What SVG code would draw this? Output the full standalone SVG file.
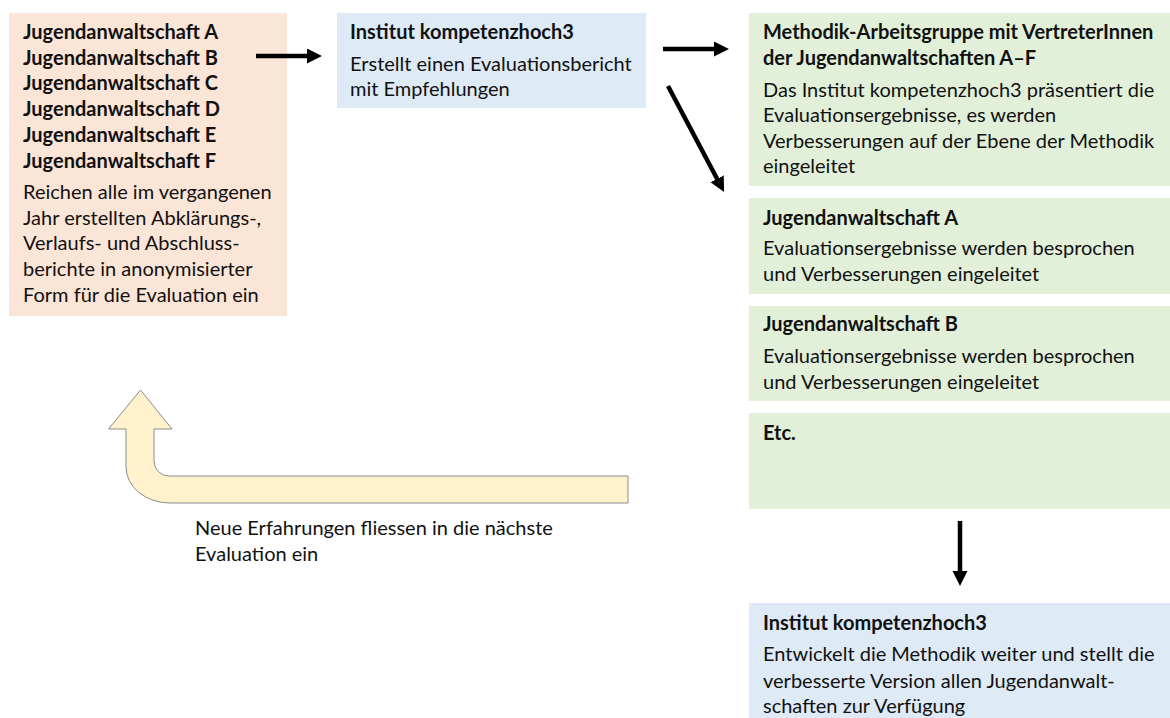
<svg xmlns="http://www.w3.org/2000/svg" width="1170" height="718" viewBox="0 0 1170 718">
<defs>
<style>
text{font-family:Lato,"Open Sans","Liberation Sans",sans-serif;font-size:20px;fill:#111}
.b{font-weight:bold}
.or{fill:#FBE5D6}
.bl{fill:#DEEBF7}
.gr{fill:#E2F0D9}
.ln{stroke:#000;stroke-width:4.5;fill:none;marker-end:url(#ah)}
</style>
<marker id="ah" markerUnits="userSpaceOnUse" markerWidth="16" markerHeight="16" refX="3" refY="7.5" orient="auto">
<path d="M0,0 L15,7.5 L0,15 z" fill="#000"/>
</marker>
</defs>
<rect width="1170" height="718" fill="#fff"/>

<g id="node-orange">
<rect class="or" x="9" y="13" width="278" height="303"/>
<text class="b" x="23" y="39">Jugendanwaltschaft A</text>
<text class="b" x="23" y="64.7">Jugendanwaltschaft B</text>
<text class="b" x="23" y="90.4">Jugendanwaltschaft C</text>
<text class="b" x="23" y="116">Jugendanwaltschaft D</text>
<text class="b" x="23" y="141.8">Jugendanwaltschaft E</text>
<text class="b" x="23" y="167.5">Jugendanwaltschaft F</text>
<text x="23" y="199">Reichen alle im vergangenen</text>
<text x="23" y="224.7">Jahr erstellten Abklärungs-,</text>
<text x="23" y="250.4">Verlaufs- und Abschluss-</text>
<text x="23" y="276">berichte in anonymisierter</text>
<text x="23" y="301.8">Form für die Evaluation ein</text>
</g>

<g id="node-institut1">
<rect class="bl" x="337" y="13" width="309" height="95"/>
<text class="b" x="350" y="39">Institut kompetenzhoch3</text>
<text x="350" y="71">Erstellt einen Evaluationsbericht</text>
<text x="350" y="96">mit Empfehlungen</text>
</g>

<g id="node-methodik">
<rect class="gr" x="749" y="13" width="421" height="173"/>
<text class="b" x="763" y="39">Methodik-Arbeitsgruppe mit VertreterInnen</text>
<text class="b" x="763" y="65">der Jugendanwaltschaften A–F</text>
<text x="763" y="96.5">Das Institut kompetenzhoch3 präsentiert die</text>
<text x="763" y="122">Evaluationsergebnisse, es werden</text>
<text x="763" y="147.5">Verbesserungen auf der Ebene der Methodik</text>
<text x="763" y="173">eingeleitet</text>
</g>

<g id="node-ja-a">
<rect class="gr" x="749" y="198" width="421" height="96"/>
<text class="b" x="763" y="224.5">Jugendanwaltschaft A</text>
<text x="763" y="255">Evaluationsergebnisse werden besprochen</text>
<text x="763" y="280.5">und Verbesserungen eingeleitet</text>
</g>

<g id="node-ja-b">
<rect class="gr" x="749" y="306" width="421" height="95"/>
<text class="b" x="763" y="331">Jugendanwaltschaft B</text>
<text x="763" y="363">Evaluationsergebnisse werden besprochen</text>
<text x="763" y="389">und Verbesserungen eingeleitet</text>
</g>

<g id="node-etc">
<rect class="gr" x="749" y="413" width="421" height="96"/>
<text class="b" x="763" y="439.5">Etc.</text>
</g>

<g id="node-institut2">
<rect class="bl" x="749" y="603" width="421" height="115"/>
<text class="b" x="763" y="630">Institut kompetenzhoch3</text>
<text x="763" y="661">Entwickelt die Methodik weiter und stellt die</text>
<text x="763" y="687.5">verbesserte Version allen Jugendanwalt-</text>
<text x="763" y="713">schaften zur Verfügung</text>
</g>

<g id="node-feedback">
<path d="M140.5,390 L172,429 L154,429 L154,461 A15,15 0 0 0 169,476 L628,476 L628,503 L170,503 A44,36 0 0 1 126,467 L126,429 L108.5,429 Z" fill="#FFF2CC" stroke="#8c8c8c" stroke-width="1"/>
<text x="195" y="535">Neue Erfahrungen fliessen in die nächste</text>
<text x="195" y="561">Evaluation ein</text>
</g>

<g id="connectors">
<line class="ln" x1="256" y1="56" x2="310" y2="56"/>
<line class="ln" x1="663" y1="49" x2="717" y2="49"/>
<line class="ln" x1="668" y1="86" x2="718.5" y2="181.5"/>
<line class="ln" x1="960" y1="521" x2="960" y2="574"/>
</g>
</svg>
